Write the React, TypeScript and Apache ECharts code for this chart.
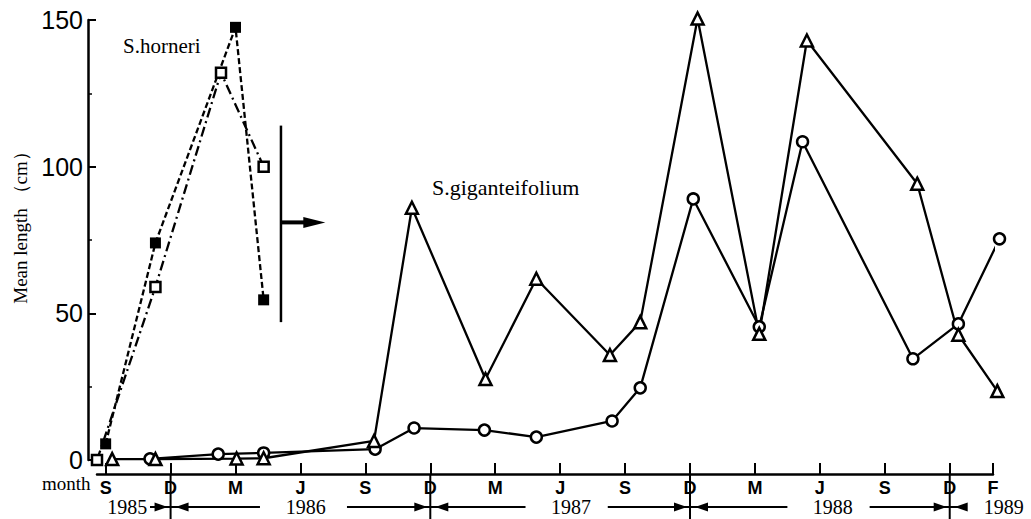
import React, { useEffect, useRef } from 'react';
import * as echarts from 'echarts';

// Month axis: 0 = September 1985, one unit per month
const monthTicks = [0, 3, 6, 9, 12, 15, 18, 21, 24, 27, 30, 33, 36, 39, 41];
const monthLabels = ['S', 'D', 'M', 'J', 'S', 'D', 'M', 'J', 'S', 'D', 'M', 'J', 'S', 'D', 'F'];

// S.horneri (two sampling groups)
const horneriFilled: number[][] = [[0, 5.5], [2.3, 74], [6.0, 147.5], [7.3, 54.6]];
const horneriOpen: number[][] = [[-0.4, 0], [2.3, 59], [5.33, 132], [7.3, 100]];

// S.giganteifolium (circles and triangles)
const gigCircle: number[][] = [
  [2.05, 0.4], [5.2, 2], [7.3, 2.4], [12.45, 3.7], [14.25, 10.9], [17.5, 10.2], [19.9, 7.8],
  [23.4, 13.3], [24.7, 24.6], [27.15, 89], [30.2, 45.4], [32.2, 108.5], [37.3, 34.5],
  [39.4, 46.4], [41.3, 75.4],
];
const gigTriangle: number[][] = [
  [0.3, 0.3], [2.3, 0.3], [6.05, 0.5], [7.3, 0.6], [12.4, 6.5], [14.15, 86], [17.55, 27.6],
  [19.9, 61.8], [23.3, 35.8], [24.7, 47], [27.35, 150.5], [30.2, 43], [32.4, 143],
  [37.5, 94.2], [39.4, 42.7], [41.2, 23.5],
];

// Year band under the month axis
const yearLabels = ['1985', '1986', '1987', '1988', '1989'];
const yearCenters = [1.0, 9.25, 21.5, 33.6, 41.5];
const yearArrows: [number, number, 'r' | 'l'][] = [
  [2.05, 3, 'r'], [3, 7.13, 'l'], [11.15, 15, 'r'], [15, 19.4, 'l'],
  [23.2, 27, 'r'], [27, 31.5, 'l'], [35.3, 39, 'r'], [39, 39.75, 'l'],
];
const decemberMonths = [3, 15, 27, 39];

const SERIF = '"Liberation Serif", "Times New Roman", serif';
const SANS = '"Liberation Sans", Arial, sans-serif';
const X_OFFSET = 14;

function buildOption(): any {
  const hollow = { color: '#fff', borderColor: '#000', borderWidth: 2.5 };
  return {
    animation: false,
    backgroundColor: '#fff',
    grid: { left: 97, right: 38, top: 20, bottom: 59, containLabel: false, outerBoundsMode: 'none' },
    xAxis: {
      type: 'value',
      min: -0.4,
      max: 41,
      offset: X_OFFSET,
      splitLine: { show: false },
      axisLine: { show: true, onZero: false, lineStyle: { color: '#000', width: 2.5 } },
      axisTick: { show: true, inside: true, length: 11, customValues: monthTicks, lineStyle: { color: '#000', width: 2 } },
      axisLabel: {
        customValues: monthTicks,
        formatter: (v: number) => {
          const i = monthTicks.indexOf(Math.round(v));
          return i >= 0 ? monthLabels[i] : '';
        },
        color: '#000',
        fontFamily: SANS,
        fontSize: 18,
        fontWeight: 'bold',
        margin: 5,
      },
    },
    yAxis: {
      type: 'value',
      min: 0,
      max: 150,
      interval: 50,
      offset: 9,
      splitLine: { show: false },
      axisLine: { show: true, onZero: false, lineStyle: { color: '#000', width: 2.5 } },
      axisTick: { show: true, inside: true, length: 8, lineStyle: { color: '#000', width: 2 } },
      minorTick: { show: true, splitNumber: 2, length: 4, lineStyle: { color: '#000', width: 1.5 } },
      axisLabel: { color: '#000', fontFamily: SANS, fontSize: 25, margin: 5 },
    },
    series: [
      {
        name: 'S.horneri ■',
        type: 'line',
        clip: false,
        data: horneriFilled,
        symbol: 'rect',
        symbolSize: 11,
        lineStyle: { color: '#000', width: 2.3, type: [6, 3] },
        itemStyle: { color: '#000' },
      },
      {
        name: 'S.horneri □',
        type: 'line',
        clip: false,
        data: horneriOpen,
        symbol: 'rect',
        symbolSize: 10,
        lineStyle: { color: '#000', width: 2.3, type: [10, 4, 2, 4] },
        itemStyle: hollow,
      },
      {
        name: 'S.giganteifolium ○',
        type: 'line',
        clip: false,
        data: gigCircle,
        symbol: 'circle',
        symbolSize: 11,
        lineStyle: { color: '#000', width: 2.3 },
        itemStyle: hollow,
      },
      {
        name: 'S.giganteifolium △',
        type: 'line',
        clip: false,
        data: gigTriangle,
        symbol: 'triangle',
        symbolSize: 12,
        lineStyle: { color: '#000', width: 2.3 },
        itemStyle: hollow,
      },
    ],
  };
}

function buildGraphics(chart: any): any[] {
  const px = (m: number, v: number) => chart.convertToPixel({ gridIndex: 0 }, [m, v]) as number[];
  const axisY = px(0, 0)[1] + X_OFFSET;
  const H = chart.getHeight();
  const els: any[] = [];
  const line = (x1: number, y1: number, x2: number, y2: number, w = 2) => ({
    type: 'line', silent: true,
    shape: { x1, y1, x2, y2 },
    style: { stroke: '#000', lineWidth: w },
  });
  const poly = (points: number[][]) => ({ type: 'polygon', silent: true, shape: { points }, style: { fill: '#000' } });
  const text = (t: string, x: number, y: number, size: number, align = 'left', extra: any = {}) => ({
    type: 'text', silent: true, x, y, ...extra,
    style: { text: t, fontFamily: SERIF, fontSize: size, fill: '#000', align, verticalAlign: 'middle' },
  });

  // December divider lines through the year band
  for (const m of decemberMonths) {
    const x = px(m, 0)[0];
    els.push(line(x, axisY, x, H, 2));
  }

  // Year labels and arrows
  const yearY = axisY + 33;
  yearLabels.forEach((t, i) => els.push(text(t, px(yearCenters[i], 0)[0], yearY, 20, 'center')));
  for (const [a, b, dir] of yearArrows) {
    const xa = px(a, 0)[0];
    const xb = px(b, 0)[0];
    els.push(line(xa, yearY, xb, yearY, 2));
    if (dir === 'r') {
      const tip = xb - 3;
      els.push(poly([[tip, yearY], [tip - 13, yearY - 4.5], [tip - 13, yearY + 4.5]]));
    } else {
      const tip = xa + 5;
      els.push(poly([[tip, yearY], [tip + 13, yearY - 4.5], [tip + 13, yearY + 4.5]]));
    }
  }

  // Bracket with arrow marking the end of S.horneri
  const top = px(8.1, 114);
  const bot = px(8.1, 47);
  els.push(line(top[0], top[1], bot[0], bot[1], 2.5));
  const mid = px(8.1, 81);
  const tipX = px(10.15, 81)[0];
  els.push(line(mid[0], mid[1], tipX - 18, mid[1], 4));
  els.push(poly([[tipX, mid[1]], [tipX - 22, mid[1] - 5.5], [tipX - 22, mid[1] + 5.5]]));

  // Species names and axis titles
  els.push(text('S.horneri', 123, 46, 21));
  els.push(text('S.giganteifolium', 432, 187, 22));
  els.push(text('month', 42, 483, 19));
  els.push(text('Mean length （cm）', 20, 223, 19, 'center', { rotation: Math.PI / 2 }));
  return els;
}

export default function App() {
  const ref = useRef<HTMLDivElement>(null);
  useEffect(() => {
    document.body.style.margin = '0';
    const chart = echarts.init(ref.current!, null, { renderer: 'svg' });
    chart.setOption(buildOption());
    chart.setOption({ graphic: buildGraphics(chart) });
    return () => chart.dispose();
  }, []);
  return <div ref={ref} style={{ width: 1031, height: 519 }} />;
}
